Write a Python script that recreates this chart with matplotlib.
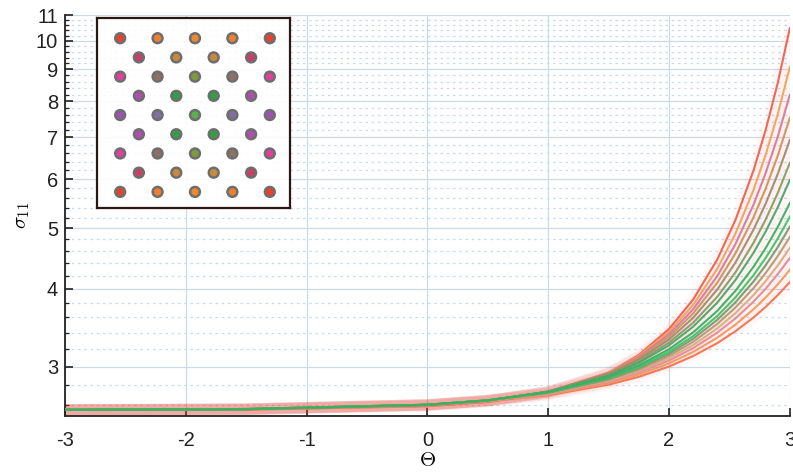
import matplotlib.pyplot as plt
from matplotlib.ticker import MultipleLocator, FixedLocator, NullFormatter

plt.rcParams['font.family'] = ['Liberation Sans', 'DejaVu Sans']
plt.rcParams['mathtext.fontset'] = 'cm'
plt.rcParams['axes.unicode_minus'] = False

# parameter values and response curves (top curve first)
theta = [-3, -1.5, 0, 0.5, 1, 1.5, 1.75, 2, 2.2, 2.4, 2.55, 2.7, 2.8, 2.9, 3]
sigma = [
    [2.555, 2.558, 2.590, 2.631, 2.723, 2.933, 3.131, 3.447, 3.844, 4.459, 5.158, 6.200, 7.193, 8.557, 10.48],
    [2.555, 2.559, 2.594, 2.637, 2.729, 2.933, 3.120, 3.412, 3.768, 4.308, 4.904, 5.766, 6.564, 7.628, 9.08],
    [2.556, 2.560, 2.597, 2.641, 2.733, 2.931, 3.108, 3.380, 3.708, 4.192, 4.718, 5.460, 6.135, 7.016, 8.19],
    [2.556, 2.560, 2.599, 2.643, 2.734, 2.926, 3.094, 3.349, 3.651, 4.091, 4.559, 5.211, 5.792, 6.541, 7.52],
    [2.556, 2.561, 2.601, 2.645, 2.735, 2.919, 3.078, 3.315, 3.592, 3.990, 4.407, 4.978, 5.478, 6.113, 6.93],
    [2.556, 2.562, 2.603, 2.647, 2.734, 2.909, 3.058, 3.277, 3.528, 3.883, 4.250, 4.742, 5.167, 5.698, 6.37],
    [2.556, 2.562, 2.604, 2.648, 2.733, 2.900, 3.041, 3.245, 3.477, 3.801, 4.131, 4.569, 4.942, 5.404, 5.98],
    [2.556, 2.563, 2.605, 2.648, 2.729, 2.885, 3.014, 3.198, 3.404, 3.686, 3.969, 4.339, 4.649, 5.026, 5.49],
    [2.556, 2.563, 2.605, 2.647, 2.726, 2.875, 2.996, 3.168, 3.358, 3.617, 3.874, 4.206, 4.482, 4.815, 5.22],
    [2.556, 2.564, 2.605, 2.647, 2.723, 2.866, 2.982, 3.145, 3.324, 3.566, 3.804, 4.109, 4.362, 4.664, 5.03],
    [2.557, 2.564, 2.605, 2.646, 2.720, 2.857, 2.966, 3.120, 3.287, 3.512, 3.731, 4.010, 4.239, 4.513, 4.84],
    [2.557, 2.564, 2.605, 2.644, 2.715, 2.846, 2.949, 3.093, 3.248, 3.454, 3.655, 3.908, 4.115, 4.359, 4.65],
    [2.557, 2.564, 2.605, 2.643, 2.711, 2.835, 2.933, 3.067, 3.211, 3.401, 3.585, 3.815, 4.001, 4.221, 4.48],
    [2.557, 2.564, 2.604, 2.640, 2.705, 2.821, 2.911, 3.035, 3.166, 3.338, 3.503, 3.708, 3.872, 4.064, 4.29],
    [2.557, 2.564, 2.603, 2.638, 2.698, 2.806, 2.888, 3.000, 3.119, 3.272, 3.418, 3.597, 3.740, 3.906, 4.10],
]
curve_colors = ['#f0604c', '#f5a05c', '#d57a9c', '#d0925a', '#a08a70', '#8c9a62',
                '#4fa46a', '#3bb060', '#3fc46a', '#7a9a70', '#b59a72', '#dbab82',
                '#e48a98', '#f4985e', '#f27254']

# inset node pattern: rows of node colours (5 / 4 alternating)
dot_rows = [
    ['#e8412c', '#f07f2e', '#f0892e', '#f07f2e', '#e8412c'],
    ['#c8406a', '#c98a3c', '#c98a3c', '#c8406a'],
    ['#e0409a', '#8f7065', '#7e9a3e', '#8f7065', '#e0409a'],
    ['#b04eb0', '#2fa043', '#2fa043', '#b04eb0'],
    ['#a050b0', '#8070a0', '#5ab04a', '#8070a0', '#a050b0'],
    ['#b04eb0', '#2fa043', '#2fa043', '#b04eb0'],
    ['#e0409a', '#8f7065', '#7e9a3e', '#8f7065', '#e0409a'],
    ['#c8406a', '#c98a3c', '#c98a3c', '#c8406a'],
    ['#e8412c', '#f07f2e', '#f0892e', '#f07f2e', '#e8412c'],
]

fig = plt.figure(figsize=(7.93, 4.72), dpi=100)
ax = fig.add_axes([0.082, 0.119, 0.914, 0.849])

# soft red haze behind the curves, then the curves (outer ones first, greens on top)
for s in sigma:
    ax.plot(theta, s, color='#f04030', lw=8, alpha=0.035, solid_capstyle='round', zorder=2)
n = len(sigma)
for i, (s, c) in enumerate(zip(sigma, curve_colors)):
    ax.plot(theta, s, color=c, lw=1.5, alpha=0.95, zorder=3 + (n - abs(i - 7)) * 0.01)

ax.set_yscale('log')
ax.set_xlim(-3, 3)
ax.set_ylim(2.5, 11)
ax.yaxis.set_major_locator(FixedLocator(range(3, 12)))
ax.yaxis.set_major_formatter(plt.FuncFormatter(lambda v, p: '%d' % round(v)))
ax.yaxis.set_minor_locator(MultipleLocator(0.2))
ax.yaxis.set_minor_formatter(NullFormatter())
ax.xaxis.set_major_locator(MultipleLocator(1))

ax.grid(True, which='major', color='#c9dbe8', lw=0.9)
ax.grid(True, which='minor', axis='y', color='#c6dcec', lw=0.9, ls=(0, (2, 3)))
ax.set_axisbelow(True)

for side in ['top', 'right']:
    ax.spines[side].set_visible(False)
for side in ['left', 'bottom']:
    ax.spines[side].set_linewidth(1.3)
    ax.spines[side].set_color('#222222')

ax.tick_params(which='major', direction='in', length=6, width=1.2, labelsize=14.5, colors='#222222')
ax.tick_params(which='minor', direction='in', length=3, width=0.9, colors='#222222')
ax.tick_params(axis='x', pad=11)
ax.tick_params(axis='y', pad=5)
ax.set_xlabel(r'$\Theta$', fontsize=15, labelpad=1)
ax.set_ylabel(r'$\sigma_{11}$', fontsize=15)
ax.yaxis.set_label_coords(-0.046, 0.5)

# inset with the node pattern
ins = fig.add_axes([0.1223, 0.5593, 0.2434, 0.4025])
ins.patch.set_facecolor('white')
ins.patch.set_alpha(0.88)
for r, row in enumerate(dot_rows):
    offset = 0.0 if len(row) == 5 else 0.5
    xs = [offset + k for k in range(len(row))]
    ins.scatter(xs, [r] * len(row), s=50, c=row, edgecolors='#6e6e6e',
                linewidths=1.8, zorder=3)
ins.set_xlim(-0.62, 4.54)
ins.set_ylim(8.84, -1.05)
ins.set_xticks([])
ins.set_yticks([])
for sp in ins.spines.values():
    sp.set_linewidth(1.6)
    sp.set_color('#2a1612')

fig.savefig('out.png', dpi=100)
